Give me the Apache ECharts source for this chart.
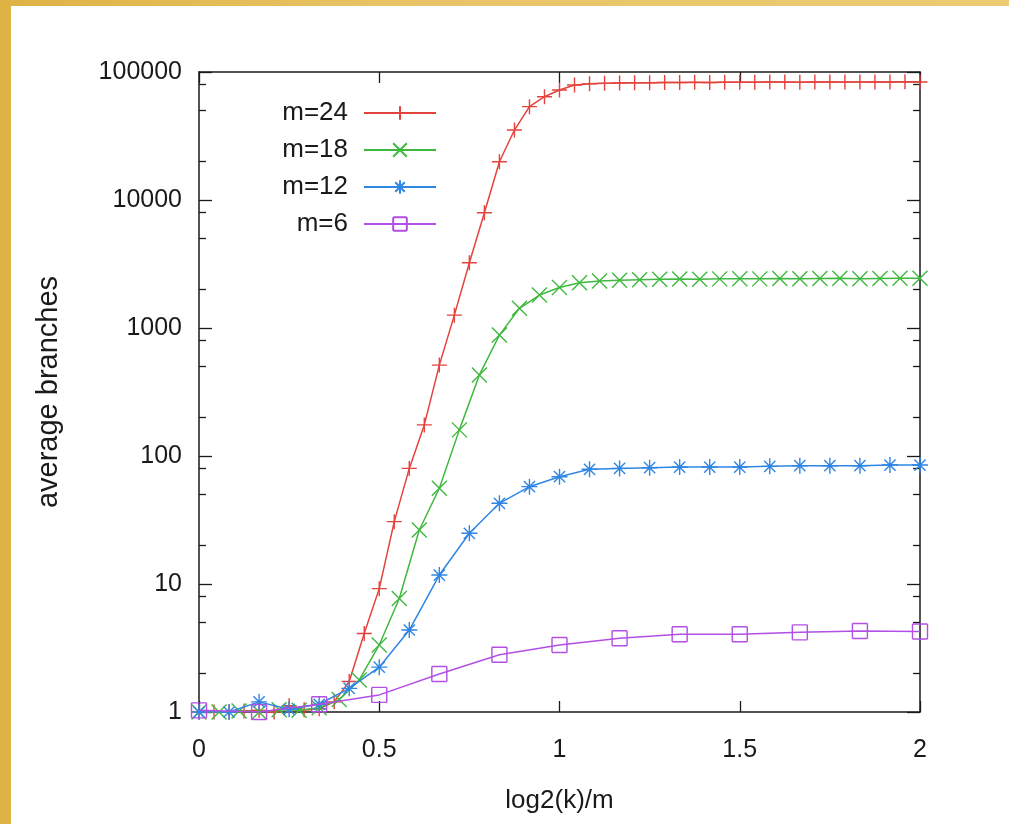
<!DOCTYPE html>
<html>
<head>
<meta charset="utf-8">
<title>average branches vs log2(k)/m</title>
<script src="https://cdn.jsdelivr.net/npm/echarts@6/dist/echarts.min.js"></script>
<style>
  html, body { margin: 0; padding: 0; }
  body {
    width: 1009px; height: 824px; overflow: hidden; position: relative;
    background: linear-gradient(90deg, #dfb244 0%, #e9c466 40%, #eccb72 100%);
  }
  #panel { position: absolute; left: 11px; top: 6px; right: 0; bottom: 0; background: #fff; }
  #chart { position: absolute; left: 0; top: 0; width: 1009px; height: 824px; }
</style>
</head>
<body>
<div id="panel"></div>
<div id="chart"></div>
<script>
// average branch counts; point j of a series sits at log2(k) = j, i.e. x = j/m
const seriesNames = ['m=24', 'm=18', 'm=12', 'm=6'];
const seriesM = [24, 18, 12, 6];

const branchesM24 = [
  1.0, 1.0, 1.0, 1.02, 1.03, 1.0, 1.12, 1.04, 1.06, 1.2,
  1.73, 4.1, 9.2, 30.7, 80, 175, 513, 1260, 3230, 7960,
  19900, 35200, 53600, 64100, 72300, 79100, 80800, 81500, 82000, 82300,
  82500, 82700, 82800, 83000, 82900, 83200, 83300, 83100, 83500, 83400,
  83300, 83500, 83600, 83400, 83700, 83500, 83600, 83800, 83600
];
const branchesM18 = [
  1.0, 1.0, 1.02, 1.0, 1.04, 1.03, 1.08, 1.25, 1.78, 3.34,
  7.7, 26.4, 56, 160, 430, 880, 1425, 1810, 2070, 2260,
  2330, 2360, 2380, 2400, 2410, 2400, 2420, 2430, 2420, 2440,
  2430, 2440, 2450, 2430, 2440, 2450, 2450
];
const branchesM12 = [
  1.0, 1.0, 1.2, 1.05, 1.15, 1.53, 2.24, 4.37, 11.75, 24.9,
  42.7, 57.6, 68.9, 78.7, 80, 81, 82, 82, 82, 83,
  84, 84, 84, 85, 85
];
const branchesM6 = [
  1.03, 1.0, 1.15, 1.36, 1.98, 2.8, 3.34, 3.77, 4.05, 4.05,
  4.19, 4.29, 4.26
];
const seriesValues = [branchesM24, branchesM18, branchesM12, branchesM6];

const xTickValues = [0, 0.5, 1, 1.5, 2];
const yMajorTicks = [1, 10, 100, 1000, 10000, 100000];
const yMinorTicks = [2, 5, 8, 20, 50, 80, 200, 500, 800, 2000, 5000, 8000, 20000, 50000, 80000];

const seriesColors = ['#e4423c', '#3fb83f', '#2f86e4', '#b24fe4'];
// gnuplot-style point types: plus, cross, asterisk, open square
const seriesSymbols = [
  'path://M0,5L10,5M5,0L5,10',
  'path://M0,0L10,10M10,0L0,10',
  'path://M0,5L10,5M5,0L5,10M1.5,1.5L8.5,8.5M8.5,1.5L1.5,8.5',
  'path://M0,0L10,0M10,0L10,10M10,10L0,10M0,10L0,0'
];
const seriesSymbolSizes = [15, 15, 16, 15];

const FONT = '"Liberation Sans", Arial, Helvetica, sans-serif';
const INK = '#1a1a1a';

const chart = echarts.init(document.getElementById('chart'), null, { renderer: 'canvas' });

const frameLine = { show: true, lineStyle: { color: INK, width: 1.5 } };

function xAxisDef(position, showLabels) {
  return {
    type: 'value', position: position, min: 0, max: 2, interval: 0.5,
    axisLine: frameLine,
    axisTick: { show: true, inside: true, length: 11, lineStyle: { color: INK, width: 1.3 } },
    axisLabel: {
      show: showLabels, margin: 26, color: INK, fontFamily: FONT, fontSize: 25,
      customValues: xTickValues,
      formatter: v => String(v)
    },
    splitLine: { show: false },
    name: showLabels ? 'log2(k)/m' : '',
    nameLocation: 'middle', nameGap: 76,
    nameTextStyle: { color: INK, fontFamily: FONT, fontSize: 26 }
  };
}

function yAxisDef(position, major, showLabels) {
  return {
    type: 'log', logBase: 10, position: position, min: 1, max: 100000,
    axisLine: major ? frameLine : { show: false },
    axisTick: {
      show: true, inside: true, length: major ? 13 : 7,
      customValues: major ? yMajorTicks : yMinorTicks,
      lineStyle: { color: INK, width: 1.3 }
    },
    axisLabel: {
      show: showLabels, margin: 17, color: INK, fontFamily: FONT, fontSize: 25,
      customValues: yMajorTicks,
      formatter: v => String(Math.round(v))
    },
    splitLine: { show: false },
    minorTick: { show: false },
    name: showLabels ? 'average branches' : '',
    nameLocation: 'middle', nameGap: 136,
    nameTextStyle: { color: INK, fontFamily: FONT, fontSize: 29 }
  };
}

const series = seriesNames.map((name, s) => ({
  name: name,
  type: 'line',
  xAxisIndex: 0,
  yAxisIndex: 0,
  data: seriesValues[s].map((v, j) => [j / seriesM[s], v]),
  symbol: seriesSymbols[s],
  symbolSize: seriesSymbolSizes[s],
  showSymbol: true,
  showAllSymbol: true,
  itemStyle: { color: seriesColors[s], borderColor: seriesColors[s], borderWidth: 1.4 },
  lineStyle: { color: seriesColors[s], width: 1.5 },
  emphasis: { disabled: true },
  animation: false,
  z: 2 + s
}));

chart.setOption({
  animation: false,
  backgroundColor: 'transparent',
  textStyle: { fontFamily: FONT },
  grid: { left: 199, right: 89, top: 72, bottom: 112, containLabel: false },
  xAxis: [xAxisDef('bottom', true), xAxisDef('top', false)],
  yAxis: [
    yAxisDef('left', true, true),
    yAxisDef('left', false, false),
    yAxisDef('right', true, false),
    yAxisDef('right', false, false)
  ],
  legend: {
    data: seriesNames,
    orient: 'vertical',
    align: 'right',
    right: 567,
    top: 95,
    itemWidth: 72,
    itemHeight: 17,
    itemGap: 11,
    selectedMode: false,
    textStyle: {
      color: INK, fontFamily: FONT, fontSize: 25, lineHeight: 25,
      rich: { t: { fontFamily: FONT, fontSize: 26, color: INK, padding: [0, 11, 0, 0] } }
    },
    formatter: name => '{t|' + name + '}'
  },
  series: series
});
</script>
</body>
</html>
